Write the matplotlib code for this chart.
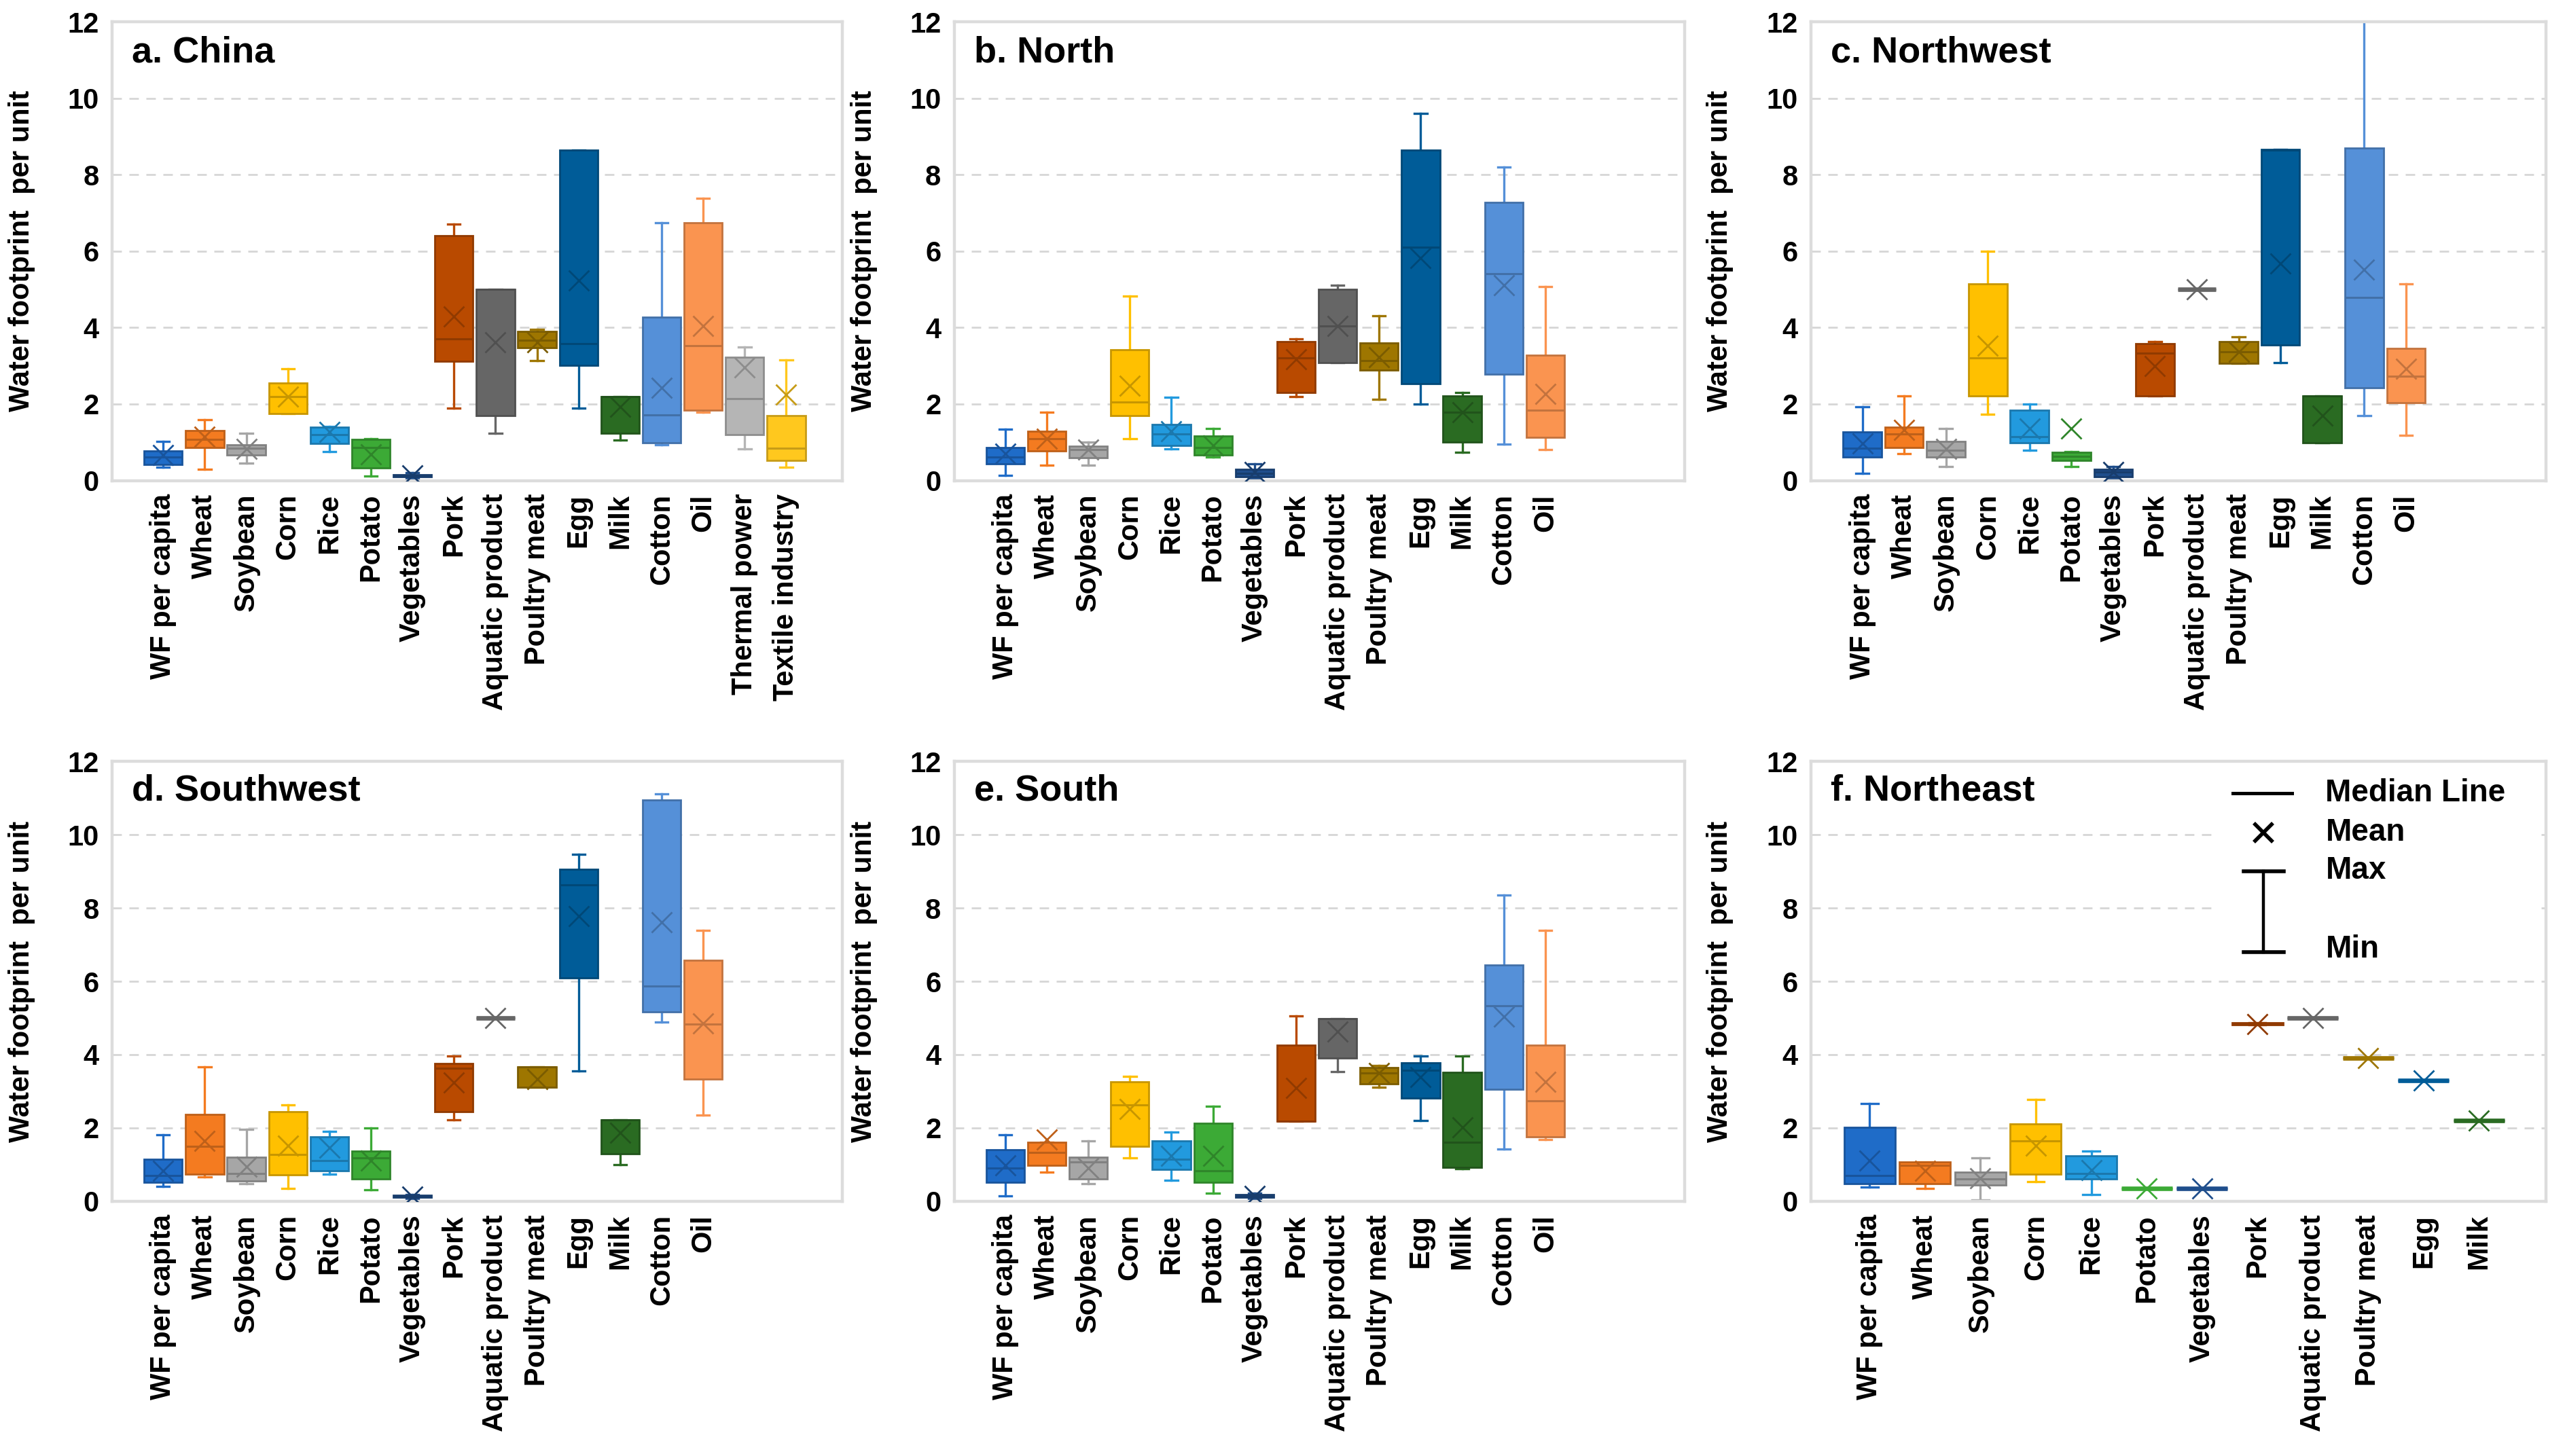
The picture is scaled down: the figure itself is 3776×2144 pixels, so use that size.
import numpy as np
import matplotlib.pyplot as plt
from matplotlib.colors import to_rgb
from matplotlib.patches import Rectangle

plt.rcParams['font.family'] = ['Liberation Sans', 'DejaVu Sans']
plt.rcParams['font.weight'] = 'bold'

categories = ['WF per capita', 'Wheat', 'Soybean', 'Corn', 'Rice', 'Potato',
              'Vegetables', 'Pork', 'Aquatic product', 'Poultry meat', 'Egg',
              'Milk', 'Cotton', 'Oil', 'Thermal power', 'Textile industry']

box_colors = ['#1f6cc8', '#f47b20', '#a6a6a6', '#ffc000', '#229ade', '#3caa36',
              '#1f4e8c', '#b94a00', '#666666', '#9e7600', '#005c98', '#2a6b22',
              '#5590d8', '#fa9450', '#b5b5b5', '#ffc81e']

# each row: min, q1, median, q3, max, mean
china = [
    [0.34, 0.42, 0.62, 0.78, 1.02, 0.66],
    [0.30, 0.87, 1.08, 1.30, 1.59, 1.14],
    [0.45, 0.66, 0.84, 0.93, 1.24, 0.82],
    [1.75, 1.75, 2.19, 2.55, 2.93, 2.19],
    [0.75, 0.96, 1.20, 1.39, 1.42, 1.27],
    [0.12, 0.33, 0.87, 1.08, 1.10, 0.69],
    [0.07, 0.10, 0.13, 0.16, 0.20, 0.13],
    [1.90, 3.11, 3.70, 6.41, 6.71, 4.30],
    [1.23, 1.69, 5.00, 5.00, 5.00, 3.61],
    [3.13, 3.47, 3.67, 3.90, 3.95, 3.61],
    [1.90, 3.01, 3.58, 8.65, 8.65, 5.24],
    [1.05, 1.24, 2.20, 2.20, 2.20, 1.93],
    [0.94, 0.99, 1.71, 4.28, 6.75, 2.43],
    [1.78, 1.84, 3.52, 6.75, 7.39, 4.04],
    [0.82, 1.20, 2.14, 3.23, 3.49, 2.95],
    [0.34, 0.52, 0.84, 1.69, 3.16, 2.25],
]

north = [
    [0.13, 0.43, 0.61, 0.86, 1.34, 0.70],
    [0.40, 0.77, 1.10, 1.28, 1.78, 1.10],
    [0.40, 0.60, 0.80, 0.89, 1.01, 0.80],
    [1.10, 1.70, 2.06, 3.42, 4.83, 2.48],
    [0.82, 0.92, 1.22, 1.46, 2.18, 1.28],
    [0.61, 0.67, 0.86, 1.16, 1.36, 0.92],
    [0.07, 0.10, 0.19, 0.29, 0.43, 0.22],
    [2.20, 2.30, 3.20, 3.63, 3.71, 3.18],
    [3.08, 3.08, 4.05, 5.01, 5.11, 4.05],
    [2.12, 2.88, 3.14, 3.59, 4.31, 3.23],
    [2.00, 2.54, 6.10, 8.65, 9.61, 5.82],
    [0.73, 1.01, 1.78, 2.22, 2.30, 1.78],
    [0.95, 2.78, 5.41, 7.28, 8.20, 5.11],
    [0.80, 1.12, 1.84, 3.27, 5.07, 2.27],
]

northwest = [
    [0.18, 0.61, 0.85, 1.27, 1.92, 0.97],
    [0.70, 0.87, 1.21, 1.39, 2.21, 1.33],
    [0.36, 0.61, 0.79, 1.03, 1.36, 0.82],
    [1.73, 2.22, 3.21, 5.15, 6.00, 3.52],
    [0.79, 0.99, 1.15, 1.84, 2.00, 1.36],
    [0.36, 0.52, 0.64, 0.73, 0.75, 1.36],
    [0.07, 0.10, 0.22, 0.30, 0.36, 0.22],
    [2.21, 2.21, 3.33, 3.58, 3.64, 3.00],
    [5.00, 5.00, 5.00, 5.00, 5.00, 5.00],
    [3.07, 3.07, 3.36, 3.64, 3.76, 3.36],
    [3.09, 3.54, 8.65, 8.67, 8.67, 5.67],
    [0.99, 0.99, 2.22, 2.22, 2.22, 1.70],
    [1.70, 2.42, 4.79, 8.70, 13.5, 5.52],
    [1.19, 2.04, 2.73, 3.45, 5.15, 2.93],
]

southwest = [
    [0.41, 0.51, 0.70, 1.14, 1.82, 0.83],
    [0.66, 0.74, 1.50, 2.37, 3.66, 1.65],
    [0.48, 0.55, 0.76, 1.21, 1.97, 0.95],
    [0.34, 0.72, 1.27, 2.44, 2.63, 1.52],
    [0.74, 0.83, 1.10, 1.75, 1.90, 1.46],
    [0.32, 0.60, 1.18, 1.37, 2.00, 1.10],
    [0.07, 0.10, 0.13, 0.16, 0.18, 0.13],
    [2.22, 2.44, 3.62, 3.75, 3.96, 3.24],
    [5.00, 5.00, 5.00, 5.00, 5.00, 5.00],
    [3.11, 3.11, 3.66, 3.66, 3.66, 3.33],
    [3.56, 6.10, 8.63, 9.05, 9.46, 7.78],
    [0.99, 1.30, 2.22, 2.22, 2.22, 1.87],
    [4.89, 5.17, 5.88, 10.95, 11.11, 7.62],
    [2.35, 3.33, 4.83, 6.58, 7.40, 4.85],
]

south = [
    [0.15, 0.51, 0.91, 1.40, 1.82, 0.98],
    [0.80, 0.98, 1.33, 1.61, 1.61, 1.69],
    [0.48, 0.61, 1.08, 1.21, 1.65, 0.91],
    [1.18, 1.50, 2.63, 3.26, 3.40, 2.51],
    [0.57, 0.86, 1.14, 1.65, 1.88, 1.23],
    [0.22, 0.51, 0.83, 2.13, 2.60, 1.23],
    [0.07, 0.11, 0.15, 0.19, 0.22, 0.15],
    [2.18, 2.18, 2.18, 4.25, 5.05, 3.09],
    [3.53, 3.91, 4.99, 4.99, 4.99, 4.63],
    [3.11, 3.21, 3.49, 3.64, 3.71, 3.49],
    [2.20, 2.82, 3.58, 3.78, 3.96, 3.39],
    [0.89, 0.93, 1.61, 3.52, 3.96, 2.01],
    [1.42, 3.05, 5.33, 6.44, 8.36, 5.04],
    [1.68, 1.75, 2.73, 4.25, 7.40, 3.26],
]

northeast = [
    [0.38, 0.47, 0.70, 2.01, 2.67, 1.10],
    [0.34, 0.48, 0.98, 1.08, 1.08, 0.83],
    [0.03, 0.44, 0.60, 0.80, 1.18, 0.63],
    [0.53, 0.74, 1.65, 2.10, 2.77, 1.52],
    [0.19, 0.61, 0.76, 1.23, 1.36, 0.85],
    [0.35, 0.35, 0.35, 0.35, 0.35, 0.35],
    [0.35, 0.35, 0.35, 0.35, 0.35, 0.35],
    [4.81, 4.81, 4.84, 4.87, 4.87, 4.84],
    [5.00, 5.00, 5.00, 5.00, 5.00, 5.00],
    [3.90, 3.90, 3.90, 3.90, 3.90, 3.90],
    [3.30, 3.30, 3.30, 3.30, 3.30, 3.30],
    [2.21, 2.21, 2.21, 2.21, 2.21, 2.21],
]

panels = [
    ('a. China', china), ('b. North', north), ('c. Northwest', northwest),
    ('d. Southwest', southwest), ('e. South', south), ('f. Northeast', northeast),
]

axes_rects = [
    [0.0437, 0.670, 0.2847, 0.315], [0.3720, 0.670, 0.2847, 0.315],
    [0.7060, 0.670, 0.2866, 0.315],
    [0.0437, 0.175, 0.2847, 0.302], [0.3720, 0.175, 0.2847, 0.302],
    [0.7060, 0.175, 0.2866, 0.302],
]


def darken(c, f=0.78):
    r, g, b = to_rgb(c)
    return (r * f, g * f, b * f)


def draw_panel(ax, title, rows, last):
    n = len(rows)
    stats = []
    for name, r in zip(categories, rows):
        stats.append(dict(label=name, whislo=r[0], q1=r[1], med=r[2],
                          q3=r[3], whishi=r[4], mean=r[5], fliers=[]))
    pos = np.arange(n)
    bp = ax.bxp(stats, positions=pos, widths=0.92, patch_artist=True,
                showmeans=True, showfliers=False, capwidths=0.3,
                manage_ticks=False)
    for i in range(n):
        c = box_colors[i]
        dk = darken(c)
        flat = rows[i][3] - rows[i][1] < 0.05
        bp['boxes'][i].set(facecolor=c, edgecolor=dk if not flat else c,
                           linewidth=2.4 if flat else 1.0, zorder=3)
        bp['medians'][i].set(color=dk if not flat else c, linewidth=1.1,
                             zorder=4)
        bp['means'][i].set(marker='x', markeredgecolor=dk if not flat else c,
                           markersize=10.5, markeredgewidth=1.0, zorder=5)
        for ln in bp['whiskers'][2 * i:2 * i + 2] + bp['caps'][2 * i:2 * i + 2]:
            ln.set(color=c, linewidth=1.2, zorder=2)

    ax.set_ylim(0, 12)
    ax.set_yticks(range(0, 13, 2))
    ax.set_xlim(-1.23 if not last else -1.06, 16.35 if not last else 12.21)
    ax.set_xticks(pos)
    ax.set_xticklabels(categories[:n], rotation=90, fontsize=15,
                       fontweight='bold', va='top')
    ax.tick_params(axis='x', length=0, pad=7)
    ax.tick_params(axis='y', length=0, pad=7, labelsize=15)
    for lab in ax.get_yticklabels():
        lab.set_fontweight('bold')
    ax.yaxis.grid(True, color='#d6d6d6', linestyle=(0, (5, 4)), linewidth=1.0)
    ax.set_axisbelow(True)
    for sp in ax.spines.values():
        sp.set_color('#dcdcdc')
        sp.set_linewidth(1.6)
    ax.set_ylabel('Water footprint  per unit', fontsize=15, fontweight='bold')
    ax.yaxis.set_label_coords(-0.105, 0.5)
    ax.text(0.027, 0.933, title, transform=ax.transAxes, fontsize=19.5,
            fontweight='bold', ha='left', va='center', zorder=6)


fig = plt.figure(figsize=(18.88, 10.72), dpi=200)
for k, (title, rows) in enumerate(panels):
    ax = fig.add_axes(axes_rects[k])
    draw_panel(ax, title, rows, k == 5)

# legend drawn inside the Northeast panel
ax = fig.axes[5]
ax.add_patch(Rectangle((0.55, 0.6), 0.44, 0.395, transform=ax.transAxes,
                       facecolor='white', edgecolor='none', zorder=1))
ax.plot([0.574, 0.654], [0.928, 0.928], color='black', lw=1.8,
        transform=ax.transAxes, zorder=6)
ax.plot([0.616], [0.838], marker='x', color='black', markersize=10,
        markeredgewidth=2.0, transform=ax.transAxes, zorder=6)
ax.plot([0.616, 0.616], [0.566, 0.750], color='black', lw=1.6,
        transform=ax.transAxes, zorder=6)
for yy in (0.566, 0.750):
    ax.plot([0.589, 0.643], [yy, yy], color='black', lw=2.0,
            transform=ax.transAxes, zorder=6)
for txt, yy in [('Median Line', 0.928), ('Mean', 0.838), ('Max', 0.752),
                ('Min', 0.572)]:
    ax.text(0.70, yy, txt, transform=ax.transAxes, fontsize=16.5,
            fontweight='bold', ha='left', va='center', zorder=6)

fig.savefig('out.png', dpi=200)
